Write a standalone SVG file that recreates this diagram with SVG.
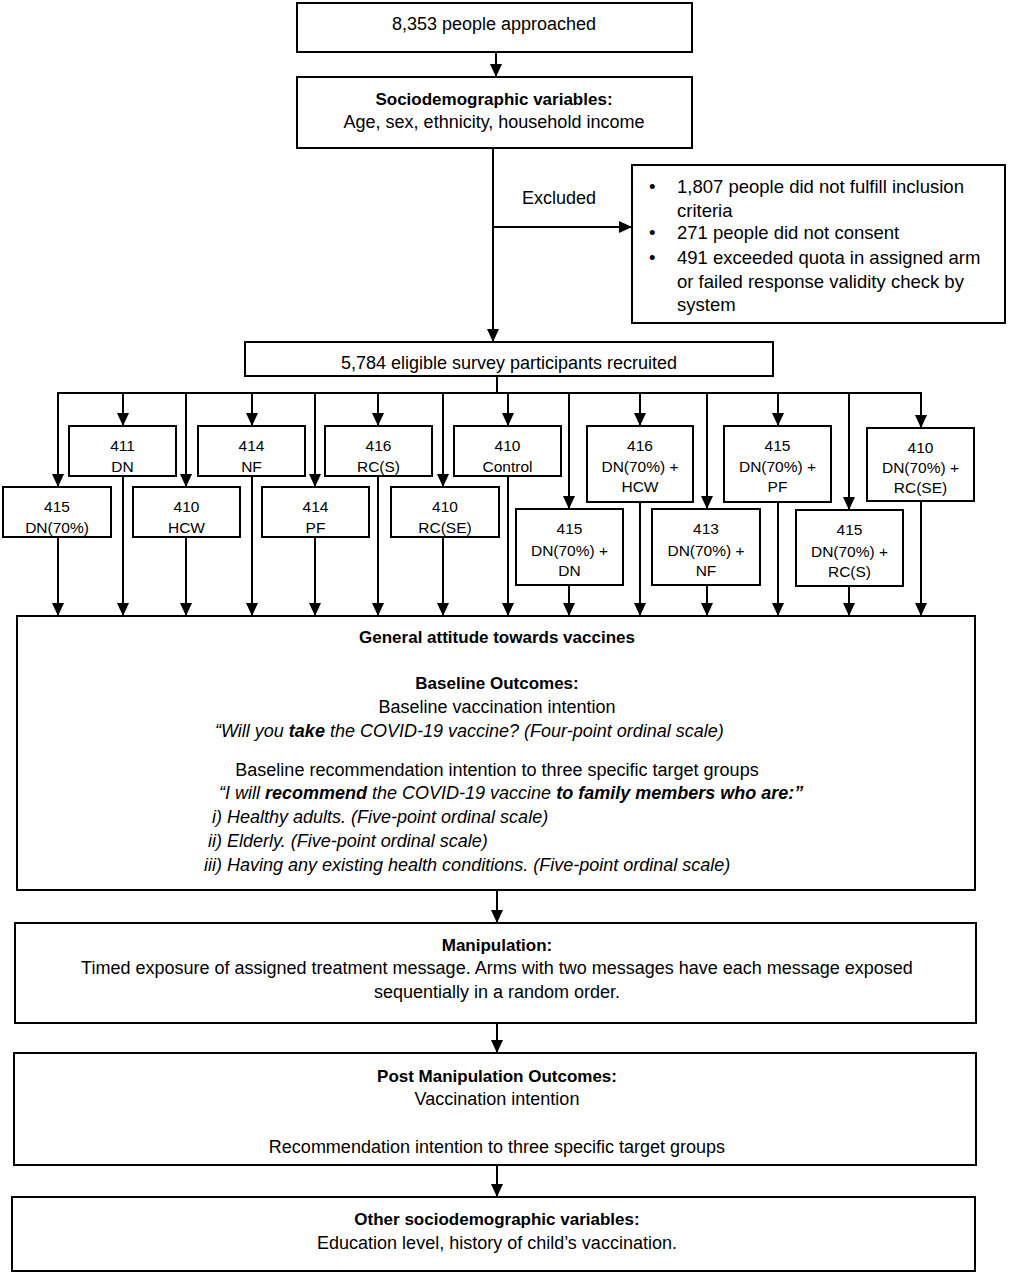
<svg xmlns="http://www.w3.org/2000/svg" width="1014" height="1280" viewBox="0 0 1014 1280">
<style>
.box{fill:#fff;stroke:#000;stroke-width:2}
.t{font-family:"Liberation Sans",Arial,sans-serif;font-size:18px;fill:#000;text-anchor:middle}
.s{text-anchor:start}
.x{font-size:18.5px}
.b{font-weight:bold;font-size:17px}
.i{font-style:italic;font-size:18px}
.arm{font-size:15.5px}
.ln{stroke:#000;stroke-width:2;fill:none}
.arr{marker-end:url(#ah)}
</style>
<defs>
<marker id="ah" markerUnits="userSpaceOnUse" markerWidth="13" markerHeight="12" refX="13" refY="6" orient="auto" viewBox="0 0 13 12">
<path d="M0,0 L13,6 L0,12 Z" fill="#000"/>
</marker>
</defs>
<rect width="1014" height="1280" fill="#fff"/>

<g id="connectors">
<line class="ln arr" x1="496" y1="52" x2="496" y2="77"/>
<line class="ln arr" x1="493" y1="148" x2="493" y2="342"/>
<line class="ln arr" x1="493" y1="227" x2="632" y2="227"/>
<line class="ln" x1="497" y1="376" x2="497" y2="393"/>
<line class="ln" x1="57" y1="393" x2="922" y2="393"/>
<line class="ln arr" x1="58" y1="393" x2="58" y2="487"/>
<line class="ln arr" x1="123" y1="393" x2="123" y2="426"/>
<line class="ln arr" x1="186" y1="393" x2="186" y2="487"/>
<line class="ln arr" x1="252" y1="393" x2="252" y2="426"/>
<line class="ln arr" x1="315" y1="393" x2="315" y2="487"/>
<line class="ln arr" x1="378" y1="393" x2="378" y2="426"/>
<line class="ln arr" x1="443" y1="393" x2="443" y2="487"/>
<line class="ln arr" x1="508" y1="393" x2="508" y2="426"/>
<line class="ln arr" x1="569" y1="393" x2="569" y2="509"/>
<line class="ln arr" x1="640" y1="393" x2="640" y2="426"/>
<line class="ln arr" x1="707" y1="393" x2="707" y2="509"/>
<line class="ln arr" x1="778" y1="393" x2="778" y2="426"/>
<line class="ln arr" x1="849" y1="393" x2="849" y2="510"/>
<line class="ln arr" x1="921" y1="393" x2="921" y2="428"/>
<line class="ln arr" x1="58" y1="537" x2="58" y2="616"/>
<line class="ln arr" x1="123" y1="476" x2="123" y2="616"/>
<line class="ln arr" x1="186" y1="537" x2="186" y2="616"/>
<line class="ln arr" x1="252" y1="476" x2="252" y2="616"/>
<line class="ln arr" x1="315" y1="537" x2="315" y2="616"/>
<line class="ln arr" x1="378" y1="476" x2="378" y2="616"/>
<line class="ln arr" x1="443" y1="537" x2="443" y2="616"/>
<line class="ln arr" x1="508" y1="476" x2="508" y2="616"/>
<line class="ln arr" x1="569" y1="585" x2="569" y2="616"/>
<line class="ln arr" x1="640" y1="502" x2="640" y2="616"/>
<line class="ln arr" x1="707" y1="585" x2="707" y2="616"/>
<line class="ln arr" x1="778" y1="502" x2="778" y2="616"/>
<line class="ln arr" x1="849" y1="586" x2="849" y2="616"/>
<line class="ln arr" x1="921" y1="501" x2="921" y2="616"/>
<line class="ln arr" x1="497" y1="890" x2="497" y2="923"/>
<line class="ln arr" x1="497" y1="1023" x2="497" y2="1053"/>
<line class="ln arr" x1="497" y1="1165" x2="497" y2="1197"/>
<text class="t" x="559" y="204">Excluded</text>
</g>

<g id="approached">
<rect class="box" x="297" y="3" width="395" height="49"/>
<text class="t" x="494" y="30">8,353 people approached</text>
</g>

<g id="sociodemographic">
<rect class="box" x="297" y="77" width="395" height="71"/>
<text class="t b" x="494" y="105">Sociodemographic variables:</text>
<text class="t" x="494" y="128">Age, sex, ethnicity, household income</text>
</g>

<g id="excluded">
<rect class="box" x="632" y="165" width="373" height="158"/>
<text class="t s x" x="649" y="193">•</text>
<text class="t s x" x="677" y="193">1,807 people did not fulfill inclusion</text>
<text class="t s x" x="677" y="217">criteria</text>
<text class="t s x" x="649" y="239">•</text>
<text class="t s x" x="677" y="239">271 people did not consent</text>
<text class="t s x" x="649" y="264">•</text>
<text class="t s x" x="677" y="264">491 exceeded quota in assigned arm</text>
<text class="t s x" x="677" y="288">or failed response validity check by</text>
<text class="t s x" x="677" y="311">system</text>
</g>

<g id="eligible">
<rect class="box" x="245" y="342" width="528" height="34"/>
<text class="t" x="509" y="369">5,784 eligible survey participants recruited</text>
</g>

<g id="arm-dn70">
<rect class="box" x="3" y="487" width="108" height="50"/>
<text class="t arm" x="57" y="512">415</text>
<text class="t arm" x="57" y="533">DN(70%)</text>
</g>
<g id="arm-dn">
<rect class="box" x="69" y="426" width="107" height="50"/>
<text class="t arm" x="122.5" y="451">411</text>
<text class="t arm" x="122.5" y="472">DN</text>
</g>
<g id="arm-hcw">
<rect class="box" x="133" y="487" width="107" height="50"/>
<text class="t arm" x="186.5" y="512">410</text>
<text class="t arm" x="186.5" y="533">HCW</text>
</g>
<g id="arm-nf">
<rect class="box" x="198" y="426" width="107" height="50"/>
<text class="t arm" x="251.5" y="451">414</text>
<text class="t arm" x="251.5" y="472">NF</text>
</g>
<g id="arm-pf">
<rect class="box" x="262" y="487" width="107" height="50"/>
<text class="t arm" x="315.5" y="512">414</text>
<text class="t arm" x="315.5" y="533">PF</text>
</g>
<g id="arm-rcs">
<rect class="box" x="325" y="426" width="107" height="50"/>
<text class="t arm" x="378.5" y="451">416</text>
<text class="t arm" x="378.5" y="472">RC(S)</text>
</g>
<g id="arm-rcse">
<rect class="box" x="391" y="487" width="108" height="50"/>
<text class="t arm" x="445" y="512">410</text>
<text class="t arm" x="445" y="533">RC(SE)</text>
</g>
<g id="arm-control">
<rect class="box" x="454" y="426" width="107" height="50"/>
<text class="t arm" x="507.5" y="451">410</text>
<text class="t arm" x="507.5" y="472">Control</text>
</g>
<g id="arm-dn70-dn">
<rect class="box" x="516" y="509" width="107" height="76"/>
<text class="t arm" x="569.5" y="534">415</text>
<text class="t arm" x="569.5" y="556">DN(70%) +</text>
<text class="t arm" x="569.5" y="576">DN</text>
</g>
<g id="arm-dn70-hcw">
<rect class="box" x="587" y="426" width="106" height="76"/>
<text class="t arm" x="640" y="451">416</text>
<text class="t arm" x="640" y="472">DN(70%) +</text>
<text class="t arm" x="640" y="492">HCW</text>
</g>
<g id="arm-dn70-nf">
<rect class="box" x="652" y="509" width="108" height="76"/>
<text class="t arm" x="706" y="534">413</text>
<text class="t arm" x="706" y="556">DN(70%) +</text>
<text class="t arm" x="706" y="576">NF</text>
</g>
<g id="arm-dn70-pf">
<rect class="box" x="724" y="426" width="107" height="76"/>
<text class="t arm" x="777.5" y="451">415</text>
<text class="t arm" x="777.5" y="472">DN(70%) +</text>
<text class="t arm" x="777.5" y="492">PF</text>
</g>
<g id="arm-dn70-rcs">
<rect class="box" x="796" y="510" width="107" height="76"/>
<text class="t arm" x="849.5" y="535">415</text>
<text class="t arm" x="849.5" y="557">DN(70%) +</text>
<text class="t arm" x="849.5" y="577">RC(S)</text>
</g>
<g id="arm-dn70-rcse">
<rect class="box" x="867" y="428" width="107" height="73"/>
<text class="t arm" x="920.5" y="453">410</text>
<text class="t arm" x="920.5" y="473">DN(70%) +</text>
<text class="t arm" x="920.5" y="493">RC(SE)</text>
</g>

<g id="baseline">
<rect class="box" x="17" y="616" width="958" height="274"/>
<text class="t b" x="497" y="643">General attitude towards vaccines</text>
<text class="t b" x="497" y="689">Baseline Outcomes:</text>
<text class="t" x="497" y="713">Baseline vaccination intention</text>
<text class="t i s" x="215" y="737">“Will you <tspan font-weight="bold">take</tspan> the COVID-19 vaccine? (Four-point ordinal scale)</text>
<text class="t" x="497" y="776">Baseline recommendation intention to three specific target groups</text>
<text class="t i s" x="219" y="799">“I will <tspan font-weight="bold">recommend</tspan> the COVID-19 vaccine <tspan font-weight="bold">to family members who are:”</tspan></text>
<text class="t i s" x="212" y="823">i) Healthy adults. (Five-point ordinal scale)</text>
<text class="t i s" x="208" y="847">ii) Elderly. (Five-point ordinal scale)</text>
<text class="t i s" x="204" y="871">iii) Having any existing health conditions. (Five-point ordinal scale)</text>
</g>

<g id="manipulation">
<rect class="box" x="15" y="923" width="961" height="100"/>
<text class="t b" x="497" y="951">Manipulation:</text>
<text class="t" x="497" y="974">Timed exposure of assigned treatment message. Arms with two messages have each message exposed</text>
<text class="t" x="497" y="998">sequentially in a random order.</text>
</g>

<g id="post">
<rect class="box" x="14" y="1053" width="962" height="112"/>
<text class="t b" x="497" y="1082">Post Manipulation Outcomes:</text>
<text class="t" x="497" y="1105">Vaccination intention</text>
<text class="t" x="497" y="1153">Recommendation intention to three specific target groups</text>
</g>

<g id="other">
<rect class="box" x="12" y="1197" width="963" height="74"/>
<text class="t b" x="497" y="1225">Other sociodemographic variables:</text>
<text class="t" x="497" y="1249">Education level, history of child’s vaccination.</text>
</g>
</svg>
